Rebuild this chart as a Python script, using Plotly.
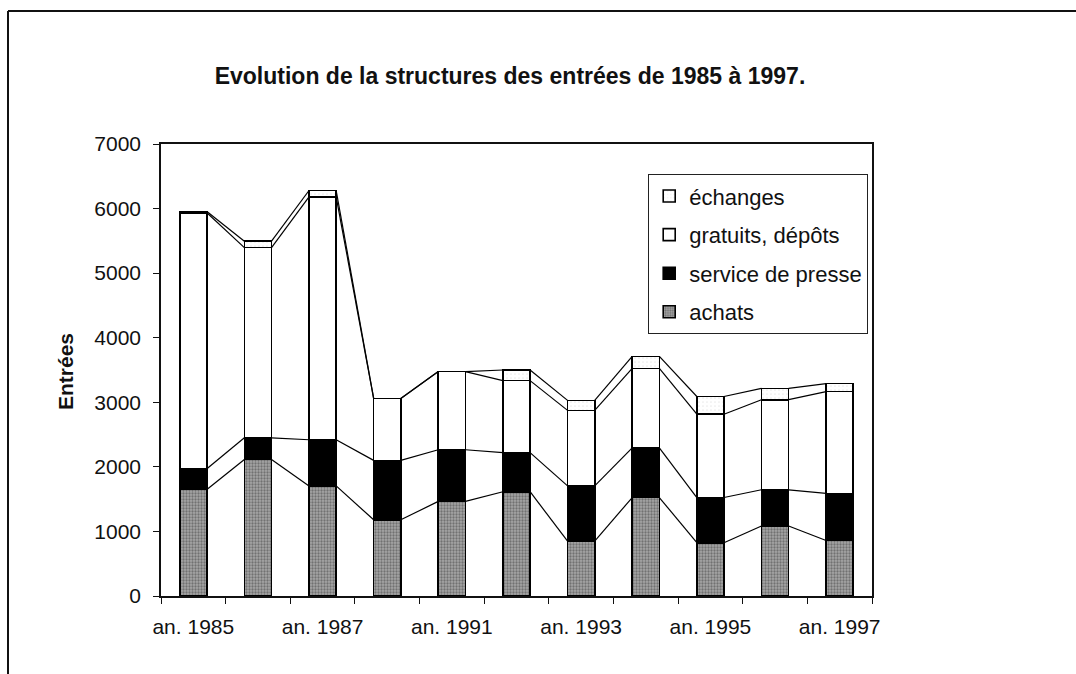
import plotly.graph_objects as go

categories = ["an. 1985", "an. 1986", "an. 1987", "an. 1990", "an. 1991", "an. 1992",
              "an. 1993", "an. 1994", "an. 1995", "an. 1996", "an. 1997"]
achats = [1650, 2115, 1705, 1180, 1465, 1615, 850, 1525, 825, 1085, 860]
service_presse = [320, 335, 715, 920, 800, 605, 855, 770, 700, 560, 730]
gratuits_depots = [3965, 2945, 3760, 960, 1210, 1115, 1170, 1230, 1290, 1395, 1575]
echanges = [20, 100, 100, 0, 0, 165, 155, 185, 275, 175, 125]
series_names = ["achats", "service de presse", "gratuits, dépôts", "échanges"]
y_ticks = [0, 1000, 2000, 3000, 4000, 5000, 6000, 7000]

W, H = 1076, 674
L, R, T, B = 161, 872, 144, 596
FONT = "Liberation Sans, Arial, sans-serif"
BAR_GAP = 0.58
bar_w = 1 - BAR_GAP

xs = list(range(len(categories)))
series = [achats, service_presse, gratuits_depots, echanges]
styles = [
    dict(color="#999999", pattern=dict(shape=".", fgcolor="#3c3c3c", bgcolor="#a6a6a6", size=3, solidity=0.45)),
    dict(color="#000000"),
    dict(color="#ffffff"),
    dict(color="#ffffff", pattern=dict(shape=".", fgcolor="#d8d8d8", bgcolor="#ffffff", size=4, solidity=0.15)),
]

fig = go.Figure()
n = len(series_names)
for k, (name, vals, st) in enumerate(zip(series_names, series, styles)):
    fig.add_trace(go.Bar(
        x=xs, y=vals, name=name, legendgroup=name, legendrank=n - k,
        marker=dict(line=dict(color="#000", width=1.6), **st),
    ))

# Series lines connecting stacked tops between adjacent bars
cum = [0] * len(xs)
for vals in series:
    cum = [c + v for c, v in zip(cum, vals)]
    lx, ly = [], []
    for i in range(len(xs) - 1):
        lx += [xs[i] + bar_w / 2, xs[i + 1] - bar_w / 2, None]
        ly += [cum[i], cum[i + 1], None]
    fig.add_trace(go.Scatter(x=lx, y=ly, mode="lines", showlegend=False,
                             line=dict(color="#000", width=1.2), hoverinfo="skip"))

def px_x(p):
    return (p - L) / (R - L)

def px_y(p):
    return (B - p) / (B - T)

fig.update_layout(
    width=W, height=H,
    margin=dict(l=L, r=W - R, t=T, b=H - B, pad=0),
    paper_bgcolor="#ffffff", plot_bgcolor="#ffffff",
    barmode="stack", bargap=BAR_GAP,
    font=dict(family=FONT, size=21, color="#111"),
    title=dict(text="<b>Evolution de la structures des entrées de 1985 à 1997.</b>",
               x=510 / W, xanchor="center", xref="container",
               y=(H - 76) / H, yanchor="middle", yref="container",
               font=dict(family=FONT, size=23, color="#111")),
    showlegend=True,
    legend=dict(x=px_x(868), y=px_y(174), xanchor="right", yanchor="top",
                bordercolor="#222", borderwidth=1.2, bgcolor="rgba(255,255,255,1)",
                traceorder="grouped", tracegroupgap=7,
                font=dict(family=FONT, size=22, color="#111")),
    xaxis=dict(range=[-0.5, len(xs) - 0.5], tickmode="array",
               tickvals=xs[::2], ticktext=categories[::2],
               ticks="", showgrid=False, zeroline=False,
               showline=True, linecolor="#111", linewidth=1.5, mirror=True,
               ticklabelstandoff=11,
               minor=dict(tickmode="linear", tick0=-0.5, dtick=1, ticks="outside",
                          ticklen=6, tickcolor="#111", tickwidth=1.2, showgrid=False)),
    yaxis=dict(range=[0, 7000], tickmode="array", tickvals=y_ticks,
               ticks="outside", ticklen=6, tickcolor="#111", tickwidth=1.2,
               showgrid=False, zeroline=False,
               showline=True, linecolor="#111", linewidth=1.5, mirror=True,
               ticklabelstandoff=8),
    annotations=[dict(text="<b>Entrées</b>", textangle=-90, xref="paper", yref="paper",
                      x=px_x(65), y=px_y(372), xanchor="center", yanchor="middle",
                      showarrow=False, font=dict(family=FONT, size=21, color="#111"))],
    shapes=[
        dict(type="line", xref="paper", yref="paper", x0=px_x(8), y0=px_y(11),
             x1=px_x(1080), y1=px_y(11), line=dict(color="#111", width=2)),
        dict(type="line", xref="paper", yref="paper", x0=px_x(8), y0=px_y(11),
             x1=px_x(8), y1=px_y(680), line=dict(color="#111", width=2)),
    ],
)

fig.write_html("out.html", config={"displayModeBar": False},
               post_script="document.body.style.margin='0px';")
